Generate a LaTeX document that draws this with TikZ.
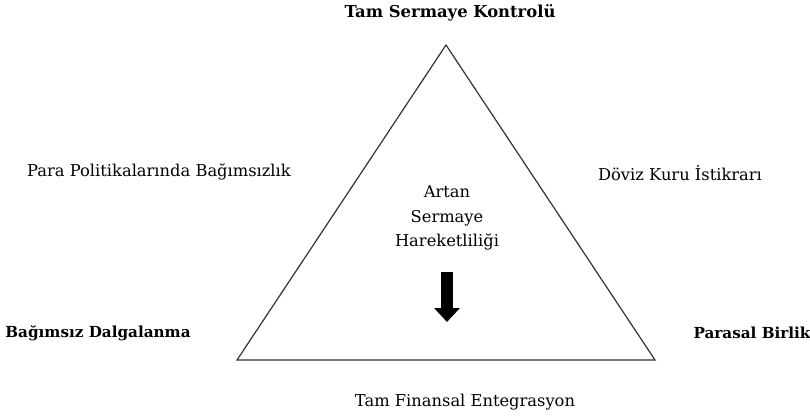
\documentclass[tikz,border=0pt]{standalone}
\usepackage{fontspec}
\setmainfont{DejaVu Serif}
\usepackage{tikz}
\usetikzlibrary{arrows.meta}

\tikzset{
  etiket/.style={font=\fontsize{16.3}{24.5}\selectfont, inner sep=0pt},
  kalin/.style={etiket, font=\fontsize{15.2}{24}\selectfont\bfseries},
}

\begin{document}
\begin{tikzpicture}[x=1pt,y=-1pt]
            \useasboundingbox (0,0) rectangle (810,418);
            \coordinate (tepe) at (446,45);
            \coordinate (sol) at (237,360);
            \coordinate (sag) at (655,360);
            \draw[line width=1.2pt,black!80] (tepe) -- (sol) -- (sag) -- cycle;
            \node[kalin, font=\fontsize{16.4}{24}\selectfont\bfseries] (kontrol) at (450,13) {Tam Sermaye Kontrolü};
            \node[etiket] (entegrasyon) at (465,402) {Tam Finansal Entegrasyon};
            \node[etiket] (para) at (159,172) {Para Politikalarında Bağımsızlık};
            \node[etiket] (doviz) at (680,173) {Döviz Kuru İstikrarı};
            \node[kalin] (dalga) at (98,333) {Bağımsız Dalgalanma};
            \node[kalin] (birlik) at (752,333) {Parasal Birlik};
            \node[etiket, align=center] (akim) at (447,218) {Artan\\Sermaye\\Hareketliliği};
            \coordinate (ok1) at (447,272);
            \coordinate (ok2) at (447,322);
            \draw[line width=12pt,-{Triangle[length=14pt,width=25pt]}] (ok1) -- (ok2);
            \end{tikzpicture}
\end{document}
